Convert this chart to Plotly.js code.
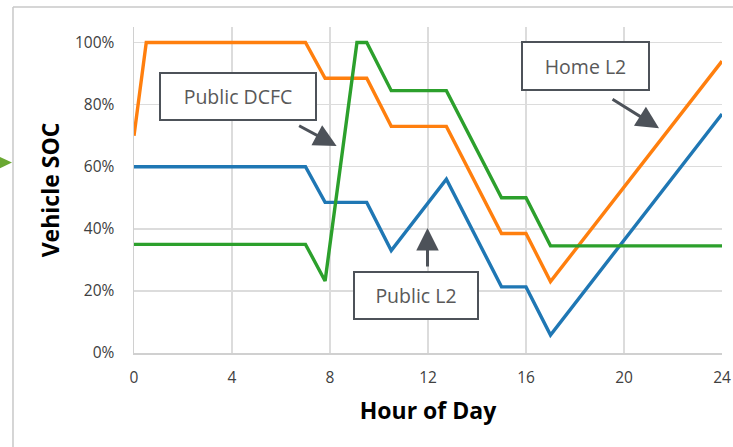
<!DOCTYPE html>
<html>
<head>
<meta charset="utf-8">
<script src="https://cdn.plot.ly/plotly-3.0.1.min.js"></script>
<style>html,body{margin:0;padding:0;background:#fff;}#chart{width:733px;height:447px;}</style>
</head>
<body>
<div id="chart"></div>
<script>
const hours = [0, 0.5, 7, 7.8, 9.1, 9.5, 10.5, 12.75, 15, 16, 17, 24];
const homeL2 = [0.70, 1.00, 1.00, 0.885, 0.885, 0.885, 0.73, 0.73, 0.385, 0.385, 0.23, 0.94];
const publicL2 = [0.60, 0.60, 0.60, 0.485, 0.485, 0.485, 0.33, 0.56, 0.213, 0.213, 0.058, 0.77];
const publicDCFC = [0.35, 0.35, 0.35, 0.232, 1.00, 1.00, 0.845, 0.845, 0.50, 0.50, 0.345, 0.345];
const xTicks = [0, 4, 8, 12, 16, 20, 24];
const yTicks = [0, 0.2, 0.4, 0.6, 0.8, 1.0];
const yTickLabels = ["0%", "20%", "40%", "60%", "80%", "100%"];

const lineW = 3.4;
const traces = [
  {x: hours, y: publicL2, mode: 'lines', line: {color: '#1f77b4', width: lineW}, name: 'Public L2'},
  {x: hours, y: homeL2, mode: 'lines', line: {color: '#ff7f0e', width: lineW}, name: 'Home L2'},
  {x: hours, y: publicDCFC, mode: 'lines', line: {color: '#2ca02c', width: lineW}, name: 'Public DCFC'}
];

const FAM = 'Open Sans, Liberation Sans, sans-serif';
const boxColor = '#4d5259';
const txtFont = {family: FAM, size: 19.5, color: '#595959'};
function box(text, x, y, w, h) {
  return {x: x, y: y, xref: 'x', yref: 'y', text: text, showarrow: false,
    font: txtFont, bordercolor: boxColor, borderwidth: 2, borderpad: 0,
    bgcolor: '#ffffff', width: w, height: h, xanchor: 'center', yanchor: 'middle'};
}
function arrow(x, y, ax, ay) {
  return {x: x, y: y, xref: 'x', yref: 'y', text: '', showarrow: true,
    ax: ax, ay: ay, arrowhead: 2, arrowsize: 1.5, arrowwidth: 3, arrowcolor: boxColor, standoff: 0};
}

const layout = {
  width: 733, height: 447,
  margin: {l: 134, r: 11, t: 27, b: 94},
  paper_bgcolor: '#ffffff', plot_bgcolor: '#ffffff',
  showlegend: false,
  xaxis: {
    range: [0, 24], tickvals: xTicks, ticktext: xTicks.map(String),
    showgrid: true, gridcolor: '#dcdcdc', gridwidth: 1.5,
    zeroline: false, showline: true, linecolor: '#d0d0d0', linewidth: 1.5,
    ticks: '', ticklabelstandoff: 10,
    tickfont: {family: FAM, size: 15.5, color: '#404040'},
    title: {text: 'Hour of Day', standoff: 16,
      font: {family: FAM, size: 23, color: '#000000', weight: 'bold'}}
  },
  yaxis: {
    range: [0, 1.05], tickvals: yTicks, ticktext: yTickLabels,
    showgrid: true, gridcolor: '#dcdcdc', gridwidth: 1.5,
    zeroline: false, showline: true, linecolor: '#d0d0d0', linewidth: 1.5,
    ticks: '', ticklabelstandoff: 15,
    tickfont: {family: FAM, size: 15.5, color: '#404040'},
    title: {text: 'Vehicle SOC', standoff: 9,
      font: {family: FAM, size: 23, color: '#000000', weight: 'bold'}}
  },
  annotations: [
    box('Public DCFC', 4.26, 0.827, 154, 45),
    box('Home L2', 18.41, 0.924, 125, 46),
    box('Public L2', 11.5, 0.184, 122, 45),
    arrow(8.27, 0.667, -39, -21),
    arrow(21.43, 0.724, -48, -30),
    arrow(11.98, 0.403, 0, 40)
  ],
  shapes: [
    {type: 'line', xref: 'paper', yref: 'paper', x0: -0.2058, x1: -0.2058, y0: 1.061, y1: -0.3,
      line: {color: '#c8c8c8', width: 1.5}},
    {type: 'line', xref: 'paper', yref: 'paper', x0: -0.2058, x1: 1.03, y0: 1.061, y1: 1.061,
      line: {color: '#c8c8c8', width: 1.5}},
    {type: 'path', xref: 'paper', yref: 'paper',
      path: 'M -0.235 0.607 L -0.2075 0.584 L -0.235 0.561 Z',
      fillcolor: '#6aa832', line: {width: 0}}
  ]
};

Plotly.newPlot('chart', traces, layout, {staticPlot: true, displayModeBar: false});
</script>
</body>
</html>
